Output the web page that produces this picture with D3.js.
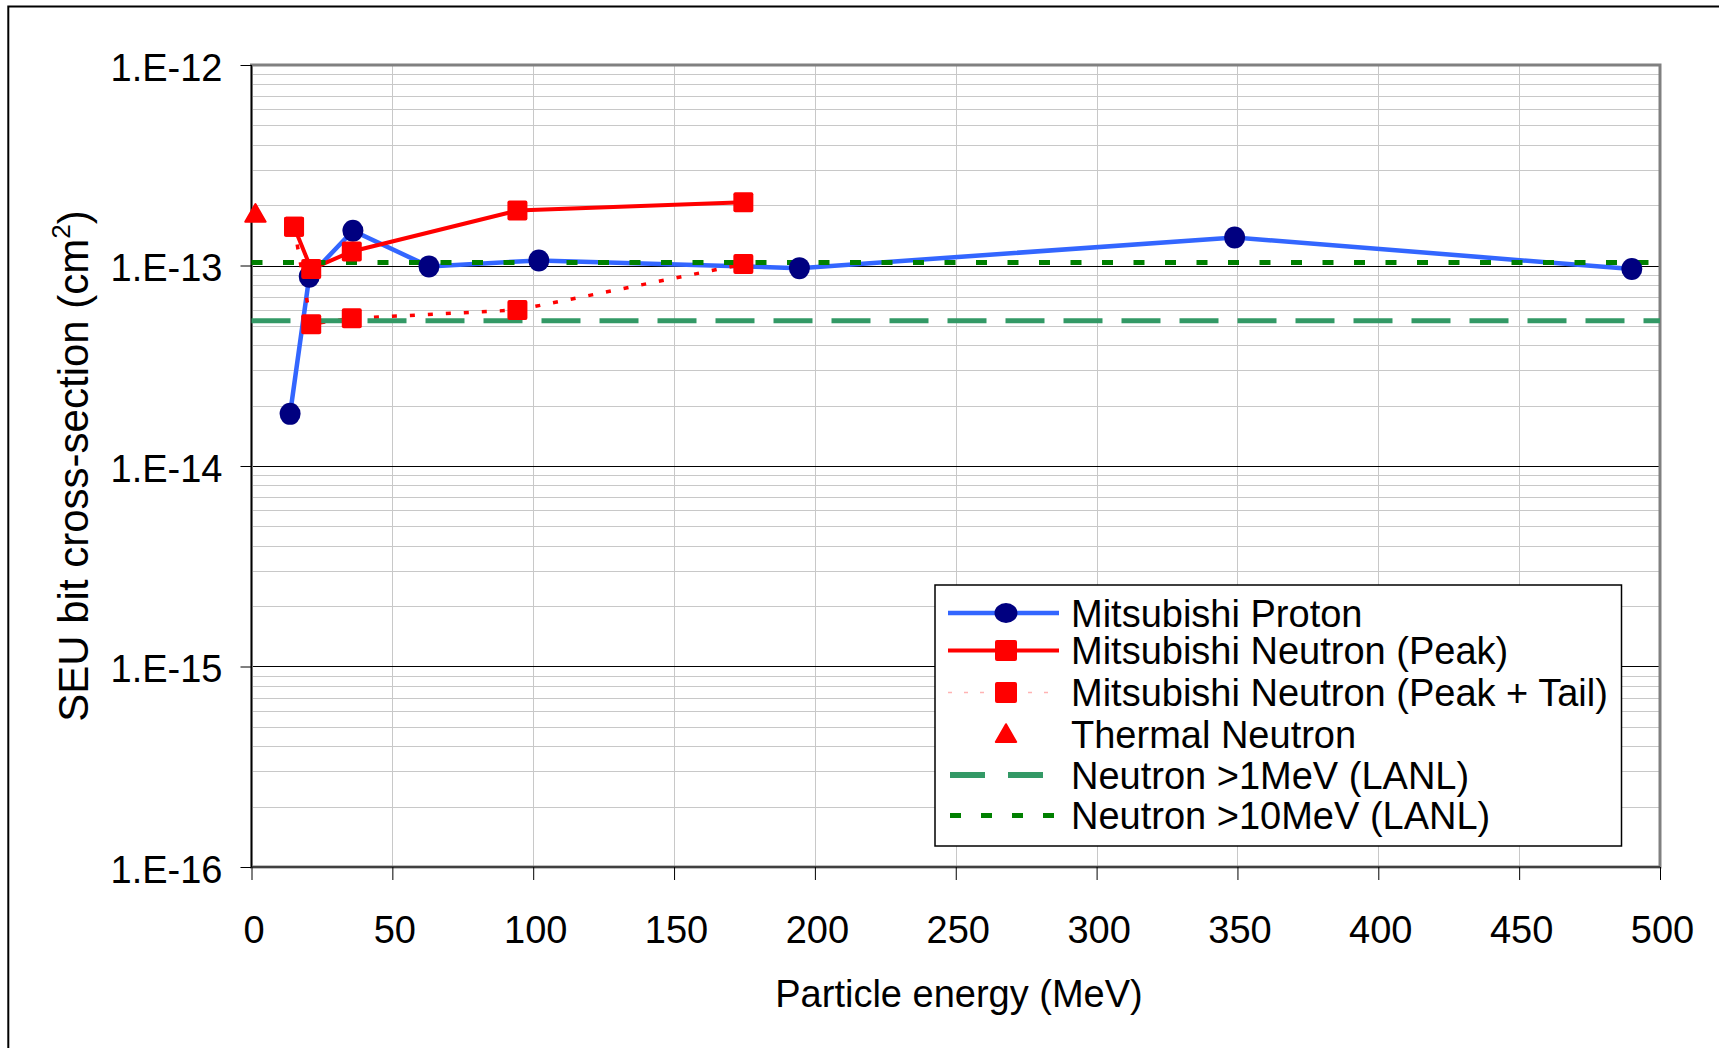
<!DOCTYPE html>
<html>
<head>
<meta charset="utf-8">
<script src="https://cdn.jsdelivr.net/npm/d3@7"></script>
<style>
  html, body { margin: 0; padding: 0; background: #fff; }
  svg { display: block; }
  text { font-family: "Liberation Sans", Arial, sans-serif; fill: #000; }
</style>
</head>
<body>
<svg id="chart" width="1719" height="1048"></svg>
<script>
// ---------------- data ----------------
const energyTicks = [0, 50, 100, 150, 200, 250, 300, 350, 400, 450, 500];
const yTickValues = [1e-16, 1e-15, 1e-14, 1e-13, 1e-12];
const yTickLabels = ["1.E-16", "1.E-15", "1.E-14", "1.E-13", "1.E-12"];

const protonE  = [13.7, 20.5, 36, 63, 102, 194.5, 349, 490];
const protonXS = [1.82e-14, 8.8e-14, 1.49e-13, 9.9e-14, 1.06e-13, 9.7e-14, 1.38e-13, 9.6e-14];

const peakE  = [15.1, 21.2, 35.6, 94.4, 174.6];
const peakXS = [1.56e-13, 9.6e-14, 1.175e-13, 1.88e-13, 2.07e-13];

const tailE  = [15.1, 21.2, 35.6, 94.4, 174.6];
const tailXS = [1.56e-13, 5.1e-14, 5.45e-14, 6.0e-14, 1.016e-13];

const thermalE  = [1.4];
const thermalXS = [1.8e-13];

const lanl1E  = [0, 500];
const lanl1XS = [5.3e-14, 5.3e-14];
const lanl10E  = [0, 500];
const lanl10XS = [1.035e-13, 1.035e-13];

const legendLabels = [
  "Mitsubishi Proton",
  "Mitsubishi Neutron (Peak)",
  "Mitsubishi Neutron (Peak + Tail)",
  "Thermal Neutron",
  "Neutron >1MeV (LANL)",
  "Neutron >10MeV (LANL)"
];

// ---------------- layout ----------------
const svg = d3.select("#chart");
const L = 251.5, R = 1660, T = 65, B = 867;
const x = d3.scaleLinear().domain([0, 500]).range([L, R]);
const y = d3.scaleLog().domain([1e-16, 1e-12]).range([B, T]);

const zip = (a, b) => a.map((v, i) => [v, b[i]]);
const line = d3.line().x(d => x(d[0])).y(d => y(d[1]));

// outer chart border
svg.append("rect").attr("x", 8.3).attr("y", 6.5).attr("width", 1800).attr("height", 1200)
  .attr("fill", "#fff").attr("stroke", "#000").attr("stroke-width", 2);

// minor horizontal grid
const minorVals = [];
for (let e = -16; e < -12; e++) for (let m = 2; m <= 9; m++) minorVals.push(m * Math.pow(10, e));
svg.append("g").selectAll("line").data(minorVals).join("line")
  .attr("x1", L).attr("x2", R).attr("y1", d => Math.round(y(d)) + 0.5).attr("y2", d => Math.round(y(d)) + 0.5)
  .attr("stroke", "#c8c8c8").attr("stroke-width", 1);

// vertical grid
svg.append("g").selectAll("line").data(energyTicks.slice(1)).join("line")
  .attr("x1", d => Math.round(x(d)) + 0.5).attr("x2", d => Math.round(x(d)) + 0.5).attr("y1", T).attr("y2", B)
  .attr("stroke", "#c8c8c8").attr("stroke-width", 1);

// major horizontal grid
svg.append("g").selectAll("line").data(yTickValues.slice(1, 4)).join("line")
  .attr("x1", L).attr("x2", R).attr("y1", d => Math.round(y(d)) + 0.5).attr("y2", d => Math.round(y(d)) + 0.5)
  .attr("stroke", "#000").attr("stroke-width", 1);

// plot frame
svg.append("rect").attr("x", L).attr("y", T).attr("width", R - L).attr("height", B - T)
  .attr("fill", "none").attr("stroke", "#808080").attr("stroke-width", 3);
svg.append("line").attr("x1", L).attr("x2", L).attr("y1", T).attr("y2", B).attr("stroke", "#000").attr("stroke-width", 1.2);
svg.append("line").attr("x1", L).attr("x2", R).attr("y1", B).attr("y2", B).attr("stroke", "#000").attr("stroke-width", 1.2);

// axes via d3
const yAxis = d3.axisLeft(y).tickValues(yTickValues).tickFormat((d, i) => yTickLabels[i]).tickSize(11).tickPadding(18);
const gy = svg.append("g").attr("transform", `translate(${L},0)`).call(yAxis);
gy.select(".domain").remove();
gy.selectAll(".tick line").attr("stroke", "#000");
gy.selectAll(".tick text").attr("font-size", 38).attr("font-family", "Liberation Sans, Arial, sans-serif")
  .attr("dy", "0.4em").attr("x", -29);

const xAxis = d3.axisBottom(x).tickValues(energyTicks).tickFormat(d3.format("d")).tickSize(13).tickPadding(6);
const gx = svg.append("g").attr("transform", `translate(0,${B})`).call(xAxis);
gx.select(".domain").remove();
gx.selectAll(".tick line").attr("stroke", "#000");
gx.selectAll(".tick text").attr("font-size", 38).attr("font-family", "Liberation Sans, Arial, sans-serif")
  .attr("dy", null).attr("y", 76).attr("dx", 2);

// axis titles
svg.append("text").attr("x", 959).attr("y", 1007).attr("text-anchor", "middle").attr("font-size", 38)
  .text("Particle energy (MeV)");
const yt = svg.append("text").attr("transform", "translate(88,466) rotate(-90)").attr("text-anchor", "middle")
  .attr("font-size", 42);
yt.append("tspan").text("SEU bit cross-section (cm");
yt.append("tspan").attr("font-size", 26).attr("dy", -18).text("2");
yt.append("tspan").attr("dy", 18).text(")");

// ---------------- series lines ----------------
const gLines = svg.append("g");
gLines.append("path").attr("d", line(zip(protonE, protonXS))).attr("fill", "none")
  .attr("stroke", "#3366ff").attr("stroke-width", 4.5);
gLines.append("path").attr("d", line(zip(peakE, peakXS))).attr("fill", "none")
  .attr("stroke", "#ff0000").attr("stroke-width", 4);
gLines.append("path").attr("d", line(zip(tailE, tailXS))).attr("fill", "none")
  .attr("stroke", "#ff0000").attr("stroke-width", 3.5).attr("stroke-dasharray", "5,13");
gLines.append("path").attr("d", line(zip(lanl1E, lanl1XS))).attr("fill", "none")
  .attr("stroke", "#339966").attr("stroke-width", 5).attr("stroke-dasharray", "39,19");
gLines.append("path").attr("d", line(zip(lanl10E, lanl10XS))).attr("fill", "none")
  .attr("stroke", "#008000").attr("stroke-width", 5).attr("stroke-dasharray", "11,20.5");

// ---------------- markers ----------------
const gM = svg.append("g");
gM.selectAll(".pm").data(zip(protonE, protonXS)).join("ellipse")
  .attr("cx", d => x(d[0])).attr("cy", d => y(d[1])).attr("rx", 10.5).attr("ry", 11)
  .attr("fill", "#000080");
const sq = 20;
gM.selectAll(".rm").data(zip(peakE, peakXS)).join("rect")
  .attr("x", d => x(d[0]) - sq / 2).attr("y", d => y(d[1]) - sq / 2).attr("width", sq).attr("height", sq)
  .attr("rx", 2).attr("fill", "#ff0000");
gM.selectAll(".tm").data(zip(tailE, tailXS)).join("rect")
  .attr("x", d => x(d[0]) - sq / 2).attr("y", d => y(d[1]) - sq / 2).attr("width", sq).attr("height", sq)
  .attr("rx", 2).attr("fill", "#ff0000");
const tri = d3.symbol().type(d3.symbolTriangle).size(180);
gM.selectAll(".th").data(zip(thermalE, thermalXS)).join("path")
  .attr("d", tri).attr("transform", d => `translate(${x(d[0])},${y(d[1]) + 1.5})`)
  .attr("fill", "#ff0000").attr("stroke", "#ff0000").attr("stroke-width", 2).attr("stroke-linejoin", "round");

// ---------------- legend ----------------
const lg = svg.append("g");
lg.append("rect").attr("x", 935).attr("y", 585).attr("width", 686.5).attr("height", 261)
  .attr("fill", "#fff").attr("stroke", "#000").attr("stroke-width", 1.5);
const rowY = [613, 650.5, 692.5, 734, 775, 815.5];
const sx1 = 948, sx2 = 1059, mx = 1006;
// row 0
lg.append("line").attr("x1", sx1).attr("x2", sx2).attr("y1", rowY[0]).attr("y2", rowY[0]).attr("stroke", "#3366ff").attr("stroke-width", 4.5);
lg.append("ellipse").attr("cx", mx).attr("cy", rowY[0]).attr("rx", 11.5).attr("ry", 10).attr("fill", "#000080");
// row 1
lg.append("line").attr("x1", sx1).attr("x2", sx2).attr("y1", rowY[1]).attr("y2", rowY[1]).attr("stroke", "#ff0000").attr("stroke-width", 4);
lg.append("rect").attr("x", mx - 11).attr("y", rowY[1] - 10.5).attr("width", 22).attr("height", 21).attr("rx", 2).attr("fill", "#ff0000");
// row 2
lg.append("line").attr("x1", sx1).attr("x2", sx2).attr("y1", rowY[2]).attr("y2", rowY[2]).attr("stroke", "#ffb3b3").attr("stroke-width", 1.5).attr("stroke-dasharray", "4,12");
lg.append("rect").attr("x", mx - 11).attr("y", rowY[2] - 10.5).attr("width", 22).attr("height", 21).attr("rx", 2).attr("fill", "#ff0000");
// row 3
lg.append("path").attr("d", tri).attr("transform", `translate(${mx},${rowY[3] + 2})`).attr("fill", "#ff0000")
  .attr("stroke", "#ff0000").attr("stroke-width", 2).attr("stroke-linejoin", "round");
// row 4
lg.append("line").attr("x1", sx1 + 2).attr("x2", sx2).attr("y1", rowY[4]).attr("y2", rowY[4]).attr("stroke", "#339966").attr("stroke-width", 6).attr("stroke-dasharray", "35,23");
// row 5
lg.append("line").attr("x1", sx1 + 2).attr("x2", sx2).attr("y1", rowY[5]).attr("y2", rowY[5]).attr("stroke", "#008000").attr("stroke-width", 5).attr("stroke-dasharray", "11,20");
lg.selectAll(".lt").data(legendLabels).join("text")
  .attr("x", 1071).attr("y", (d, i) => rowY[i] + 13.5).attr("font-size", 38).text(d => d);
</script>
</body>
</html>
